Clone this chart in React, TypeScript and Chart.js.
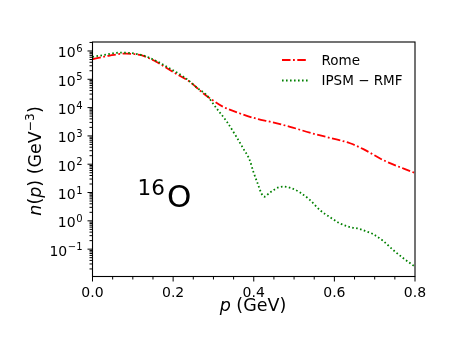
import React, { useEffect, useRef } from "react";
import { Chart, registerables } from "chart.js";

Chart.register(...registerables);

// ---- data ----
const romeP = [0, 0.043, 0.084, 0.1, 0.121, 0.142, 0.159, 0.2, 0.2415, 0.2745, 0.295, 0.324, 0.366, 0.411, 0.44, 0.49, 0.539, 0.589, 0.639, 0.672, 0.721, 0.8];
const romeN = [5.1e5, 6.9e5, 8.1e5, 7.8e5, 7.1e5, 5.4e5, 4.1e5, 1.8e5, 8.1e4, 3.2e4, 1.95e4, 1.07e4, 6.2e3, 3.9e3, 3.2e3, 2.1e3, 1.3e3, 850, 550, 340, 140, 49];

const ipsmP = [0, 0.026, 0.068, 0.093, 0.126, 0.159, 0.192, 0.229, 0.262, 0.283, 0.308, 0.333, 0.357, 0.374, 0.39, 0.399, 0.411, 0.419, 0.426, 0.44, 0.461, 0.473, 0.494, 0.515, 0.539, 0.564, 0.589, 0.614, 0.639, 0.662, 0.68, 0.696, 0.721, 0.746, 0.771, 0.8];
const ipsmN = [6.2e5, 7.1e5, 8.7e5, 8.5e5, 6.9e5, 4.4e5, 2.4e5, 1.15e5, 4.7e4, 2.75e4, 9.3e3, 3.2e3, 930, 360, 140, 54, 18.6, 9.3, 7.1, 10, 15.1, 16.2, 14.1, 10, 5.5, 2.4, 1.35, 0.81, 0.6, 0.52, 0.42, 0.34, 0.195, 0.093, 0.048, 0.024];

const xMajorTicks = [0, 0.2, 0.4, 0.6, 0.8];
const xTickLabels = ["0.0", "0.2", "0.4", "0.6", "0.8"];
const yMajorExps = [-1, 0, 1, 2, 3, 4, 5, 6];
const seriesNames = ["Rome", "IPSM \u2212 RMF"];

const FONT = "'DejaVu Sans', sans-serif";
const RED = "#ff0000";
const GREEN = "#008000";
const RED_DASH = [8.5, 2.5, 1.8, 2.5];
const GREEN_DASH = [1.6, 2.4];

const overlay = {
  id: "mplOverlay",
  afterDraw(chart: any) {
    const ctx = chart.ctx as CanvasRenderingContext2D;
    const xs = chart.scales.x;
    const ys = chart.scales.y;
    const a = chart.chartArea;
    ctx.save();
    ctx.strokeStyle = "#000";
    ctx.fillStyle = "#000";
    ctx.lineWidth = 1.1;
    ctx.setLineDash([]);
    ctx.strokeRect(a.left, a.top, a.right - a.left, a.bottom - a.top);

    // x ticks
    ctx.lineWidth = 1;
    for (let i = 0; i <= 16; i++) {
      const v = i * 0.05;
      const px = xs.getPixelForValue(v);
      const major = i % 4 === 0;
      ctx.beginPath();
      ctx.moveTo(px, a.bottom);
      ctx.lineTo(px, a.bottom + (major ? 5 : 3));
      ctx.stroke();
    }
    ctx.font = `14px ${FONT}`;
    ctx.textAlign = "center";
    ctx.textBaseline = "alphabetic";
    xMajorTicks.forEach((v, i) => {
      ctx.fillText(xTickLabels[i], xs.getPixelForValue(v), 297);
    });

    // y ticks
    const lo = ys.min, hi = ys.max;
    for (let k = -3; k <= 6; k++) {
      for (let m = 1; m <= 9; m++) {
        const v = m * Math.pow(10, k);
        if (v < lo || v > hi) continue;
        const py = ys.getPixelForValue(v);
        ctx.beginPath();
        ctx.moveTo(a.left, py);
        ctx.lineTo(a.left - (m === 1 ? 5 : 3), py);
        ctx.stroke();
      }
    }
    ctx.textAlign = "left";
    yMajorExps.forEach((e) => {
      const py = ys.getPixelForValue(Math.pow(10, e));
      const sup = e < 0 ? "\u2212" + Math.abs(e) : String(e);
      ctx.font = `10px ${FONT}`;
      const ws = ctx.measureText(sup).width;
      ctx.font = `14px ${FONT}`;
      const wm = ctx.measureText("10").width;
      const right = 82.5;
      const xm = right - ws - 0.5 - wm;
      ctx.fillText("10", xm, py + 6.5);
      ctx.font = `10px ${FONT}`;
      ctx.fillText(sup, xm + wm + 0.5, py + 1);
    });

    // x label
    const lab = 17.5;
    ctx.font = `italic ${lab}px ${FONT}`;
    const wp = ctx.measureText("p").width;
    ctx.font = `${lab}px ${FONT}`;
    const wr = ctx.measureText(" (GeV)").width;
    let x0 = 253 - (wp + wr) / 2;
    ctx.font = `italic ${lab}px ${FONT}`;
    ctx.fillText("p", x0, 310.5);
    ctx.font = `${lab}px ${FONT}`;
    ctx.fillText(" (GeV)", x0 + wp, 310.5);

    // y label (rotated)
    const parts: [string, string][] = [
      ["n", "i"], ["(", "n"], ["p", "i"], [")", "n"], [" (GeV", "n"], ["\u22123", "s"], [")", "n"],
    ];
    const fontFor = (t: string) =>
      t === "i" ? `italic ${lab}px ${FONT}` : t === "s" ? `${lab * 0.7}px ${FONT}` : `${lab}px ${FONT}`;
    let W = 0;
    const widths = parts.map(([s, t]) => {
      ctx.font = fontFor(t);
      const w = ctx.measureText(s).width;
      W += w;
      return w;
    });
    ctx.save();
    ctx.translate(40.5, 161);
    ctx.rotate(-Math.PI / 2);
    let cx = -W / 2;
    parts.forEach(([s, t], i) => {
      ctx.font = fontFor(t);
      ctx.fillText(s, cx, t === "s" ? -7 : 0);
      cx += widths[i];
    });
    ctx.restore();

    // legend
    const legY = [60, 80.5];
    const cols = [RED, GREEN];
    const dashes = [RED_DASH, GREEN_DASH];
    for (let i = 0; i < 2; i++) {
      ctx.strokeStyle = cols[i];
      ctx.lineWidth = 1.8;
      ctx.setLineDash(dashes[i]);
      ctx.beginPath();
      ctx.moveTo(282, legY[i]);
      ctx.lineTo(308, legY[i]);
      ctx.stroke();
    }
    ctx.setLineDash([]);
    ctx.fillStyle = "#000";
    ctx.font = `13.5px ${FONT}`;
    ctx.fillText(seriesNames[0], 321.5, 65);
    ctx.fillText(seriesNames[1], 321.5, 85);

    // nucleus annotation
    ctx.font = `21.5px ${FONT}`;
    ctx.fillText("16", 137.6, 195);
    ctx.font = `31px ${FONT}`;
    ctx.fillText("O", 167, 206.5);

    ctx.restore();
  },
};

export default function App() {
  const ref = useRef<HTMLCanvasElement | null>(null);
  useEffect(() => {
    if (!ref.current) return;
    const chart = new Chart(ref.current, {
      type: "line",
      data: {
        datasets: [
          {
            label: seriesNames[0],
            data: romeP.map((p, i) => ({ x: p, y: romeN[i] })),
            borderColor: RED,
            borderWidth: 1.8,
            borderDash: RED_DASH,
            pointRadius: 0,
            cubicInterpolationMode: "monotone",
            fill: false,
            order: 1,
          },
          {
            label: seriesNames[1],
            data: ipsmP.map((p, i) => ({ x: p, y: ipsmN[i] })),
            borderColor: GREEN,
            borderWidth: 1.8,
            borderDash: GREEN_DASH,
            pointRadius: 0,
            cubicInterpolationMode: "monotone",
            fill: false,
            order: 0,
          },
        ],
      },
      options: {
        animation: false,
        responsive: false,
        devicePixelRatio: 1,
        layout: { padding: { left: 92.5, right: 46, top: 42, bottom: 69.5 } },
        plugins: { legend: { display: false }, tooltip: { enabled: false }, title: { display: false } },
        scales: {
          x: { type: "linear", min: 0, max: 0.8, display: false },
          y: { type: "logarithmic", min: Math.pow(10, -1.966), max: Math.pow(10, 6.317), display: false },
        },
      },
      plugins: [overlay],
    } as any);
    return () => chart.destroy();
  }, []);
  return (
    <div style={{ position: "fixed", left: 0, top: 0, width: 461, height: 346, background: "#fff" }}>
      <canvas ref={ref} width={461} height={346} />
    </div>
  );
}
